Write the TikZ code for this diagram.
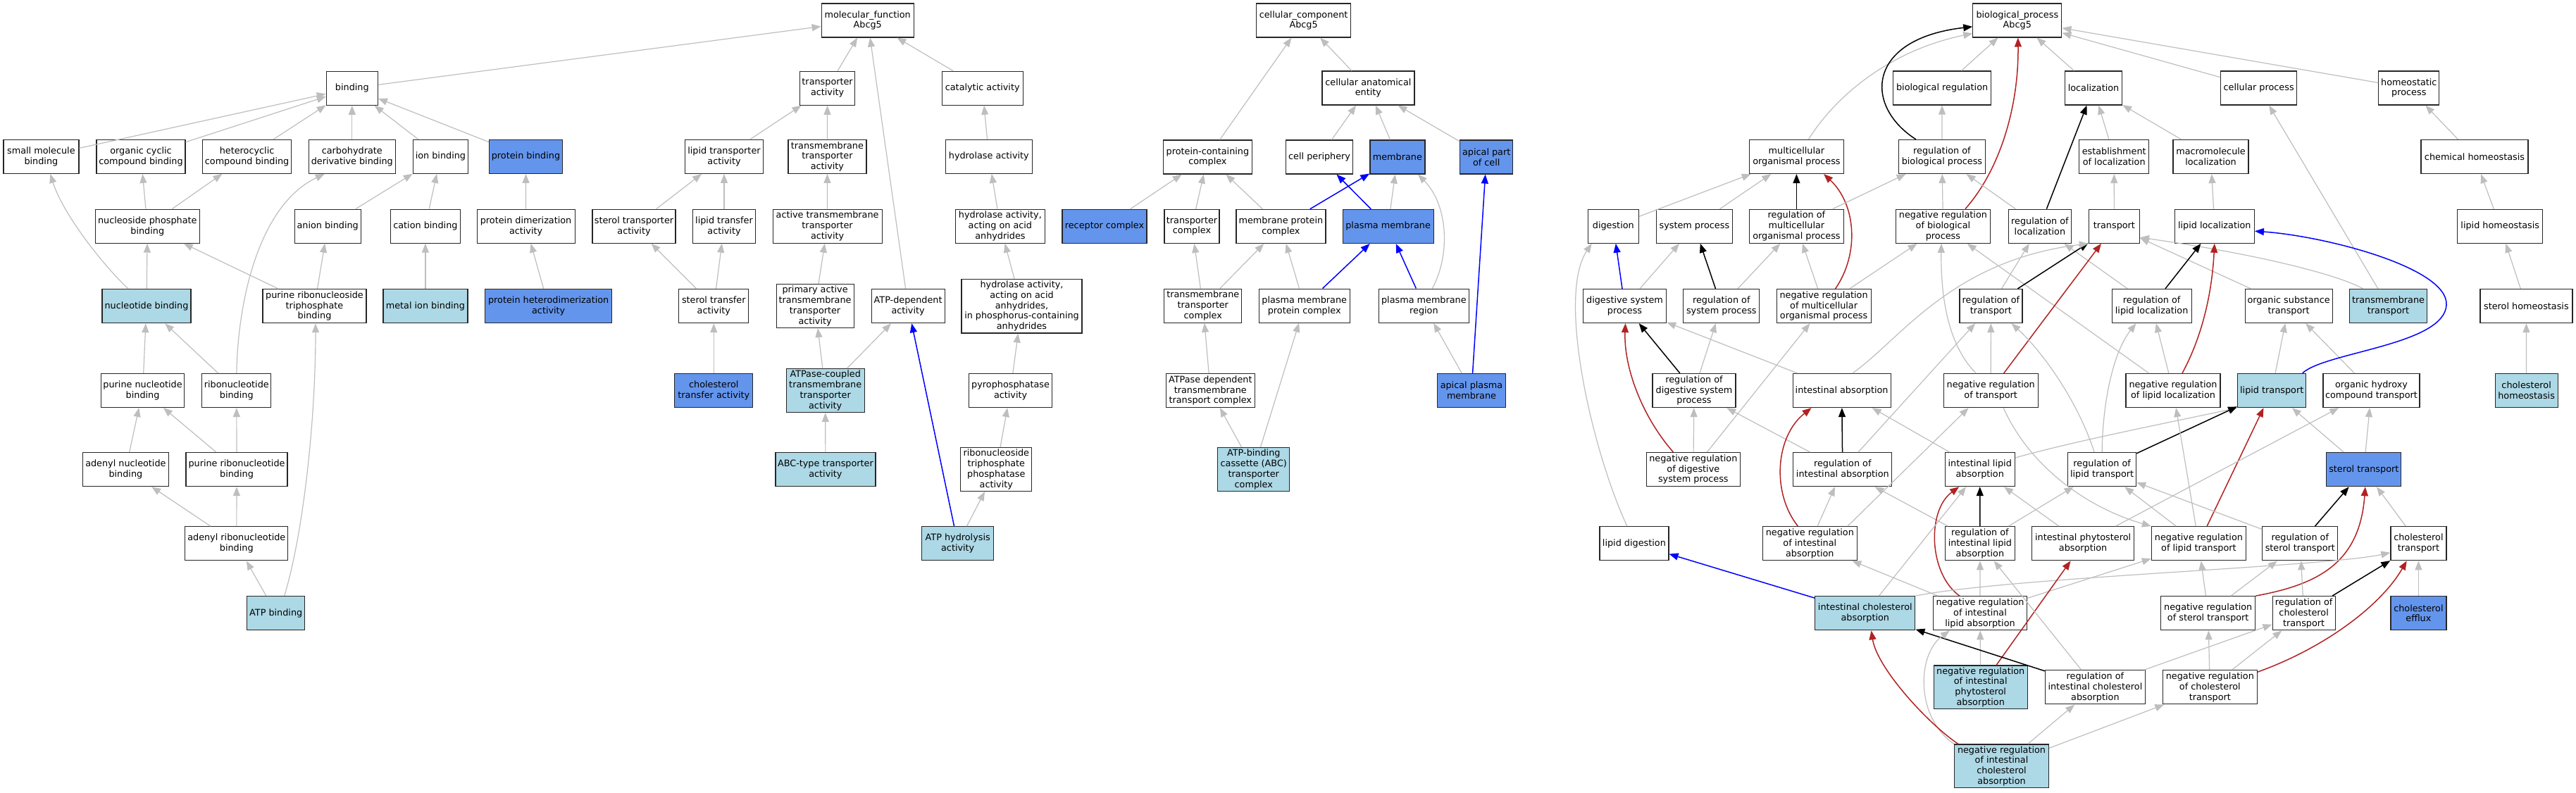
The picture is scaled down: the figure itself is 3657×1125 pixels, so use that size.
\documentclass[tikz,border=0pt]{standalone}
\usepackage{fontspec}
\setmainfont{DejaVu Sans}
\usetikzlibrary{arrows.meta}
\definecolor{edgegray}{HTML}{BEBEBE}
\definecolor{hitblue}{HTML}{ADD8E6}
\definecolor{annoblue}{HTML}{6495ED}
\definecolor{negred}{HTML}{B22222}
\begin{document}
\begin{tikzpicture}[x=1pt, y=-1pt,
	term/.style={rectangle, draw=black!85, line width=1.2pt, fill=white, align=center, inner xsep=2pt, inner ysep=2.5pt, minimum height=48pt, font=\fontsize{12.8}{14.8}\selectfont},
	termlb/.style={term, fill=hitblue},
	termcb/.style={term, fill=annoblue},
	isa/.style={draw=edgegray, line width=1.2pt, -{Triangle[length=13pt, width=10pt]}},
	partof/.style={isa, draw=blue, line width=1.5pt},
	regby/.style={isa, draw=black, line width=1.5pt},
	negreg/.style={isa, draw=negred, line width=1.5pt}]
		\useasboundingbox (0,0) rectangle (3657,1125);

		% molecular function terms
		\node[term, minimum width=131pt](mf) at (1231.7,28.9){molecular\_function\\Abcg5};
		\node[term, minimum width=73pt](binding) at (499.8,125.2){binding};
		\node[term, minimum width=78pt](transporter) at (1174.6,125.2){transporter\\activity};
		\node[term, minimum width=115pt](catalytic) at (1394.7,125.2){catalytic activity};
		\node[term, minimum width=107pt](smb) at (58.4,222.3){small molecule\\binding};
		\node[term, minimum width=126pt](ocb) at (200,222.3){organic cyclic\\compound binding};
		\node[term, minimum width=126pt](hcb) at (350.6,222.3){heterocyclic\\compound binding};
		\node[term, minimum width=123pt](cdb) at (499.8,222.3){carbohydrate\\derivative binding};
		\node[term, minimum width=78pt](ionb) at (625.4,222.3){ion binding};
		\node[termcb, minimum width=104pt](protb) at (746.5,222.3){protein binding};
		\node[term, minimum width=111pt](lta) at (1028,222.3){lipid transporter\\activity};
		\node[term, minimum width=111pt](tmta) at (1174.4,222.3){transmembrane\\transporter\\activity};
		\node[term, minimum width=123pt](hydro) at (1403.8,222.3){hydrolase activity};
		\node[term, minimum width=148pt](npb) at (209.3,321.1){nucleoside phosphate\\binding};
		\node[term, minimum width=94pt](anion) at (465.2,321.1){anion binding};
		\node[term, minimum width=99pt](cation) at (603.9,321.1){cation binding};
		\node[term, minimum width=139pt](pdim) at (746.6,321.1){protein dimerization\\activity};
		\node[term, minimum width=118pt](sta) at (900,321.1){sterol transporter\\activity};
		\node[term, minimum width=89pt](ltfa) at (1028,321.1){lipid transfer\\activity};
		\node[term, minimum width=155pt](atta) at (1174.6,321.1){active transmembrane\\transporter\\activity};
		\node[term, minimum width=127pt](hyaa) at (1419.9,321.1){hydrolase activity,\\acting on acid\\anhydrides};
		\node[termlb, minimum width=126pt](nucb) at (208,434.6){nucleotide binding};
		\node[term, minimum width=147pt](prtb) at (446.5,434.6){purine ribonucleoside\\triphosphate\\binding};
		\node[termlb, minimum width=120pt](metal) at (603.9,434.6){metal ion binding};
		\node[termcb, minimum width=180pt](phet) at (778.7,434.6){protein heterodimerization\\activity};
		\node[term, minimum width=99pt](stfa) at (1013.3,434.6){sterol transfer\\activity};
		\node[term, minimum width=110pt](pata) at (1157.1,434.6){primary active\\transmembrane\\transporter\\activity};
		\node[term, minimum width=104pt](atpdep) at (1289.1,434.6){ATP-dependent\\activity};
		\node[term, minimum width=171pt](hyph) at (1450.5,434.6){hydrolase activity,\\acting on acid\\anhydrides,\\in phosphorus-containing\\anhydrides};
		\node[term, minimum width=118pt](pnb) at (202.6,554.4){purine nucleotide\\binding};
		\node[term, minimum width=98pt](rnb) at (335.8,554.4){ribonucleotide\\binding};
		\node[termcb, minimum width=111pt](ctfa) at (1013.3,554.5){cholesterol\\transfer activity};
		\node[termlb, minimum width=111pt](atpc) at (1171.7,554.6){ATPase-coupled\\transmembrane\\transporter\\activity};
		\node[term, minimum width=118pt](pyro) at (1434.6,554.5){pyrophosphatase\\activity};
		\node[term, minimum width=122pt](anb) at (178.4,666.5){adenyl nucleotide\\binding};
		\node[term, minimum width=144pt](prnb) at (336,666.5){purine ribonucleotide\\binding};
		\node[termlb, minimum width=142pt](abc) at (1171.9,666.5){ABC-type transporter\\activity};
		\node[term, minimum width=101pt](rtpa) at (1414.3,666.5){ribonucleoside\\triphosphate\\phosphatase\\activity};
		\node[term, minimum width=146pt](arnb) at (335.8,771.8){adenyl ribonucleotide\\binding};
		\node[termlb, minimum width=102pt](atph) at (1359.7,771.8){ATP hydrolysis\\activity};
		\node[termlb, minimum width=82pt](atpb) at (391.7,870.5){ATP binding};

		% cellular component terms
		\node[term, minimum width=134pt](cc) at (1850.6,29){cellular\_component\\Abcg5};
		\node[term, minimum width=131pt](cae) at (1942.4,125){cellular anatomical\\entity};
		\node[term, minimum width=126pt](pcc) at (1714.4,223){protein-containing\\complex};
		\node[term, minimum width=95pt](cperi) at (1873.1,223){cell periphery};
		\node[termcb, minimum width=78pt](memb) at (1983.9,223){membrane};
		\node[termcb, minimum width=75pt](apc) at (2110.2,223){apical part\\of cell};
		\node[termcb, minimum width=120pt](recc) at (1568,321.4){receptor complex};
		\node[term, minimum width=78pt](trc) at (1692,321.4){transporter\\complex};
		\node[term, minimum width=127pt](mpc) at (1818.4,321.4){membrane protein\\complex};
		\node[termcb, minimum width=129pt](pm) at (1970.6,321.4){plasma membrane};
		\node[term, minimum width=110pt](tmtc) at (1707.8,434.1){transmembrane\\transporter\\complex};
		\node[term, minimum width=129pt](pmpc) at (1851.7,434.1){plasma membrane\\protein complex};
		\node[term, minimum width=128pt](pmr) at (2021.4,434.1){plasma membrane\\region};
		\node[term, minimum width=126pt](atpdtc) at (1718.3,554.5){ATPase dependent\\transmembrane\\transport complex};
		\node[termcb, minimum width=97pt](apm) at (2089,554.5){apical plasma\\membrane};
		\node[termlb, minimum width=102pt](abctc) at (1779.8,666.3){ATP-binding\\cassette (ABC)\\transporter\\complex};

		% biological process terms
		\node[term, minimum width=126pt](bp) at (2863.8,28.9){biological\_process\\Abcg5};
		\node[term, minimum width=139pt](breg) at (2757.1,125){biological regulation};
		\node[term, minimum width=81pt](loc) at (2972,125){localization};
		\node[term, minimum width=108pt](cellp) at (3206.6,125){cellular process};
		\node[term, minimum width=86pt](homeo) at (3419.8,125){homeostatic\\process};
		\node[term, minimum width=134pt](mop) at (2550.4,222.5){multicellular\\organismal process};
		\node[term, minimum width=123pt](rbp) at (2756.9,222.5){regulation of\\biological process};
		\node[term, minimum width=99pt](estloc) at (3001.2,222.5){establishment\\of localization};
		\node[term, minimum width=107pt](mmloc) at (3138.5,222.5){macromolecule\\localization};
		\node[term, minimum width=152pt](chemh) at (3513,222.5){chemical homeostasis};
		\node[term, minimum width=72pt](dig) at (2290.3,321.2){digestion};
		\node[term, minimum width=108pt](sysp) at (2405.4,321.2){system process};
		\node[term, minimum width=134pt](rmop) at (2550.4,321.2){regulation of\\multicellular\\organismal process};
		\node[term, minimum width=134pt](nrbp) at (2758.4,321.2){negative regulation\\of biological\\process};
		\node[term, minimum width=89pt](rloc) at (2895.9,321.2){regulation of\\localization};
		\node[term, minimum width=72pt](trans) at (3001.4,321.2){transport};
		\node[term, minimum width=113pt](lloc) at (3143.8,321.2){lipid localization};
		\node[term, minimum width=121pt](lhom) at (3549.2,321.2){lipid homeostasis};
		\node[term, minimum width=118pt](dsp) at (2306.5,434.5){digestive system\\process};
		\node[term, minimum width=108pt](rsp) at (2443.8,434.5){regulation of\\system process};
		\node[term, minimum width=134pt](nrmop) at (2589.1,434.5){negative regulation\\of multicellular\\organismal process};
		\node[term, minimum width=89pt](rtr) at (2826.4,434.5){regulation of\\transport};
		\node[term, minimum width=113pt](rll) at (3054.6,434.5){regulation of\\lipid localization};
		\node[term, minimum width=124pt](ost) at (3249.1,434.5){organic substance\\transport};
		\node[termlb, minimum width=110pt](tmt) at (3390.5,434.5){transmembrane\\transport};
		\node[term, minimum width=131pt](sth) at (3586.4,434.5){sterol homeostasis};
		\node[term, minimum width=118pt](rdsp) at (2405,554.5){regulation of\\digestive system\\process};
		\node[term, minimum width=139pt](ia) at (2614.6,554.5){intestinal absorption};
		\node[term, minimum width=134pt](nrtr) at (2826.2,554.5){negative regulation\\of transport};
		\node[term, minimum width=134pt](nrll) at (3085,554.5){negative regulation\\of lipid localization};
		\node[termlb, minimum width=97pt](ltr) at (3225.2,554.5){lipid transport};
		\node[term, minimum width=137pt](ohct) at (3366.5,554.5){organic hydroxy\\compound transport};
		\node[termlb, minimum width=89pt](chom) at (3586.6,554.5){cholesterol\\homeostasis};
		\node[term, minimum width=133pt](nrdsp) at (2403.8,666.6){negative regulation\\of digestive\\system process};
		\node[term, minimum width=140pt](ria) at (2615.8,666.6){regulation of\\intestinal absorption};
		\node[term, minimum width=99pt](ila) at (2810.7,666.6){intestinal lipid\\absorption};
		\node[term, minimum width=97pt](rlt) at (2984.1,666.6){regulation of\\lipid transport};
		\node[termcb, minimum width=106pt](str) at (3355.8,666.6){sterol transport};
		\node[term, minimum width=98pt](ldig) at (2319.9,771.7){lipid digestion};
		\node[term, minimum width=134pt](nria) at (2569.3,771.7){negative regulation\\of intestinal\\absorption};
		\node[term, minimum width=99pt](rila) at (2810.9,771.7){regulation of\\intestinal lipid\\absorption};
		\node[term, minimum width=145pt](ipa) at (2957.1,771.7){intestinal phytosterol\\absorption};
		\node[term, minimum width=134pt](nrlt) at (3121.4,771.7){negative regulation\\of lipid transport};
		\node[term, minimum width=107pt](rst) at (3265.3,771.7){regulation of\\sterol transport};
		\node[term, minimum width=79pt](ctr) at (3433.4,771.7){cholesterol\\transport};
		\node[termlb, minimum width=142pt](ica) at (2647.8,870.7){intestinal cholesterol\\absorption};
		\node[term, minimum width=133pt](nrila) at (2811,870.7){negative regulation\\of intestinal\\lipid absorption};
		\node[term, minimum width=134pt](nrst) at (3134.7,870.7){negative regulation\\of sterol transport};
		\node[term, minimum width=89pt](rct) at (3270.6,870.7){regulation of\\cholesterol\\transport};
		\node[termcb, minimum width=79pt](ceff) at (3433.4,870.7){cholesterol\\efflux};
		\node[termlb, minimum width=133pt](nripa) at (2811.7,975.8){negative regulation\\of intestinal\\phytosterol\\absorption};
		\node[term, minimum width=142pt](rica) at (2974.4,975.8){regulation of\\intestinal cholesterol\\absorption};
		\node[term, minimum width=134pt](nrct) at (3137.3,975.8){negative regulation\\of cholesterol\\transport};
		\node[termlb, minimum width=134pt](nrica) at (2841.5,1087.8){negative regulation\\of intestinal\\cholesterol\\absorption};
		\coordinate (loopturn) at (3473,433);

		% draw molecular function edges
		\draw[isa] (binding) -- (mf);
		\draw[isa] (transporter) -- (mf);
		\draw[isa] (catalytic) -- (mf);
		\draw[isa] (atpdep) -- (mf);
		\draw[isa] (smb) -- (binding);
		\draw[isa] (ocb) -- (binding);
		\draw[isa] (hcb) -- (binding);
		\draw[isa] (cdb) -- (binding);
		\draw[isa] (ionb) -- (binding);
		\draw[isa] (protb) -- (binding);
		\draw[isa] ([xshift=-26pt]nucb.north) .. controls (140,370) and (88,300) .. ([xshift=13pt]smb.south);
		\draw[isa] (npb) -- (ocb);
		\draw[isa] (npb) -- (hcb);
		\draw[isa] (rnb.north) .. controls (338,420) and (370,290) .. ([xshift=-39pt]cdb.south);
		\draw[isa] (anion) -- (ionb);
		\draw[isa] (cation) -- (ionb);
		\draw[isa] (pdim) -- (protb);
		\draw[isa] (nucb) -- (npb);
		\draw[isa] (prtb) -- (npb);
		\draw[isa] (prtb) -- (anion);
		\draw[isa] (metal) -- (cation);
		\draw[isa] (phet) -- (pdim);
		\draw[isa] (pnb) -- (nucb);
		\draw[isa] (rnb) -- (nucb);
		\draw[isa] (anb) -- (pnb);
		\draw[isa] (prnb) -- (pnb);
		\draw[isa] (prnb) -- (rnb);
		\draw[isa] (arnb) -- (anb);
		\draw[isa] (arnb) -- (prnb);
		\draw[isa] (atpb) -- (arnb);
		\draw[isa] ([xshift=12pt]atpb.north) .. controls (430,760) and (448,600) .. ([xshift=1.5pt]prtb.south);
		\draw[isa] (lta) -- (transporter);
		\draw[isa] (tmta) -- (transporter);
		\draw[isa] (hydro) -- (catalytic);
		\draw[isa] (sta) -- (lta);
		\draw[isa] (ltfa) -- (lta);
		\draw[isa] (atta) -- (tmta);
		\draw[isa] (hyaa) -- (hydro);
		\draw[isa] (stfa) -- (sta);
		\draw[isa] (stfa) -- (ltfa);
		\draw[isa] (pata) -- (atta);
		\draw[isa] (hyph) -- (hyaa);
		\draw[isa] (ctfa) -- (stfa);
		\draw[isa] (atpc) -- (pata);
		\draw[isa] (atpc) -- (atpdep);
		\draw[isa] (pyro) -- (hyph);
		\draw[isa] (abc) -- (atpc);
		\draw[isa] (rtpa) -- (pyro);
		\draw[isa] (atph) -- (rtpa);
		\draw[partof] (atph) -- (atpdep);

		% draw cellular component edges
		\draw[isa] (pcc) -- (cc);
		\draw[isa] (cae) -- (cc);
		\draw[isa] (cperi) -- (cae);
		\draw[isa] (memb) -- (cae);
		\draw[isa] (apc) -- (cae);
		\draw[isa] (recc) -- (pcc);
		\draw[isa] (trc) -- (pcc);
		\draw[isa] (mpc) -- (pcc);
		\draw[partof] (mpc) -- (memb);
		\draw[partof] (pm) -- (cperi);
		\draw[isa] (pm) -- (memb);
		\draw[isa] (tmtc) -- (trc);
		\draw[isa] (tmtc) -- (mpc);
		\draw[isa] (pmpc) -- (mpc);
		\draw[partof] (pmpc) -- (pm);
		\draw[partof] (pmr) -- (pm);
		\draw[isa] ([xshift=12pt]pmr.north) .. controls (2060,360) and (2055,290) .. ([xshift=29pt]memb.south);
		\draw[isa] (atpdtc) -- (tmtc);
		\draw[isa] (abctc) -- (atpdtc);
		\draw[isa] (abctc) -- (pmpc);
		\draw[isa] (apm) -- (pmr);
		\draw[partof] (apm) -- (apc);

		% draw biological process edges
		\draw[isa] (breg) -- (bp);
		\draw[isa] (loc) -- (bp);
		\draw[isa] (cellp) -- (bp);
		\draw[isa] (homeo) -- (bp);
		\draw[isa] ([xshift=17pt]mop.north) .. controls (2610,130) and (2690,70) .. ([yshift=6pt]bp.south west);
		\draw[regby] ([xshift=-37pt]rbp.north) .. controls (2645,150) and (2650,55) .. ([yshift=-9pt]bp.west);
		\draw[negreg] ([xshift=31.6pt]nrbp.north) .. controls (2840,240) and (2866,150) .. ([xshift=1pt]bp.south);
		\draw[isa] (rbp) -- (breg);
		\draw[isa] (dig) -- (mop);
		\draw[isa] (sysp) -- (mop);
		\draw[regby] (rmop) -- (mop);
		\draw[negreg] ([xshift=16.5pt]nrmop.north) .. controls (2640,360) and (2635,290) .. ([xshift=38.6pt]mop.south);
		\draw[isa] (rmop) -- (rbp);
		\draw[isa] (nrbp) -- (rbp);
		\draw[isa] (rloc) -- (rbp);
		\draw[regby] (rloc) -- (loc);
		\draw[isa] (estloc) -- (loc);
		\draw[isa] (mmloc) -- (loc);
		\draw[isa] (trans) -- (estloc);
		\draw[isa] (lloc) -- (mmloc);
		\draw[isa] (chemh) -- (homeo);
		\draw[isa] (lhom) -- (chemh);
		\draw[isa] (sth) -- (lhom);
		\draw[isa] (chom) -- (sth);
		\draw[isa] (tmt) -- (cellp);
		\draw[isa] ([xshift=19.5pt]tmt.north west) .. controls (3320,390) and (3200,360) .. ([yshift=-16pt]trans.east);
		\draw[isa] (ost) -- (trans);
		\draw[isa] (ltr) -- (ost);
		\draw[isa] (ohct) -- (ost);
		\draw[partof] ([xshift=-5.7pt]ltr.north east) .. controls (3300,500) and (3470,490) .. (loopturn) .. controls (3476,380) and (3300,335) .. ([yshift=-7pt]lloc.east);
		\draw[isa] (str) -- (ltr);
		\draw[isa] (str) -- (ohct);
		\draw[isa] (ctr) -- (str);
		\draw[isa] (ceff) -- (ctr);

		% digestion and absorption edges
		\draw[partof] (dsp) -- (dig);
		\draw[isa] (dsp) -- (sysp);
		\draw[regby] (rsp) -- (sysp);
		\draw[isa] (rsp) -- (rmop);
		\draw[isa] ([xshift=-10pt]ldig.north) .. controls (2260,640) and (2210,420) .. ([xshift=6pt]dig.south west);
		\draw[isa] (nrmop) -- (rmop);
		\draw[isa] (nrmop) -- (nrbp);
		\draw[isa] ([xshift=-21pt]nrtr.north) .. controls (2765,490) and (2755,420) .. ([xshift=-2.4pt]nrbp.south);
		\draw[isa] (nrll) -- (nrbp);
		\draw[isa] (rtr) -- (rloc);
		\draw[isa] (rll) -- (rloc);
		\draw[regby] (rtr) -- (trans);
		\draw[negreg] (nrtr) -- (trans);
		\draw[isa] ([xshift=15.4pt]ia.north) .. controls (2700,480) and (2770,370) .. (trans.south west);
		\draw[regby] (rll) -- (lloc);
		\draw[negreg] ([xshift=13pt]nrll.north) .. controls (3125,480) and (3140,420) .. (lloc.south);
		\draw[isa] (nrll) -- (rll);
		\draw[isa] (rlt.north) .. controls (2985,570) and (3000,500) .. ([xshift=35pt]rll.south west);
		\draw[isa] (ria) -- (rtr);
		\draw[isa] (nrtr) -- (rtr);
		\draw[isa] ([xshift=-11pt]rlt.north) .. controls (2950,570) and (2900,500) .. ([xshift=-16pt]rtr.south east);
		\draw[isa] ([xshift=-14pt]nria.north east) -- ([xshift=36pt]nrtr.south west);
		\draw[negreg] ([xshift=-28.4pt]nrdsp.north) .. controls (2330,590) and (2305,520) .. ([xshift=1pt]dsp.south);
		\draw[regby] (rdsp) -- (dsp);
		\draw[isa] (ia) -- (dsp);
		\draw[isa] (rdsp) -- (rsp);
		\draw[isa] (nrdsp) -- (nrmop);
		\draw[isa] (nrdsp) -- (rdsp);
		\draw[isa] (ria) -- (rdsp);
		\draw[regby] (ria) -- (ia);
		\draw[negreg] ([xshift=-17pt]nria.north) .. controls (2515,700) and (2520,620) .. ([xshift=-43pt]ia.south);
		\draw[isa] (ila) -- (ia);
		\draw[isa] (nria) -- (ria);
		\draw[isa] (rila) -- (ria);
		\draw[regby] (rila) -- (ila);
		\draw[negreg] ([xshift=38pt]nrila.north west) .. controls (2738,815) and (2735,725) .. ([xshift=20.6pt]ila.south west);
		\draw[isa] (ica) -- (ila);
		\draw[isa] (ipa) -- (ila);
		\draw[isa] ([yshift=-8pt]ila.north east) .. controls (2950,625) and (3080,600) .. (ltr.south west);
		\draw[regby] (rlt) -- (ltr);
		\draw[negreg] (nrlt) -- (ltr);
		\draw[isa] (rila) -- (rlt);
		\draw[isa] (nrlt) -- (rlt);
		\draw[isa] (rst) -- (rlt);
		\draw[isa] (nrlt) -- (nrll);
		\draw[isa] ([xshift=18pt]nrtr.south) .. controls (2880,660) and (2960,720) .. (nrlt.north west);
		\draw[isa] (ipa) -- (ohct);

		% sterol and cholesterol edges
		\draw[regby] (rst) -- (str);
		\draw[negreg] (nrst.north east) .. controls (3290,830) and (3350,800) .. ([xshift=2pt]str.south);
		\draw[isa] (ica.north east) .. controls (2850,820) and (3300,805) .. ([yshift=-13pt]ctr.west);
		\draw[regby] (rct) -- (ctr);
		\draw[negreg] ([yshift=-3pt]nrct.north east) .. controls (3300,920) and (3380,860) .. ([xshift=-16.7pt]ctr.south);
		\draw[isa] (nrila) -- (nria);
		\draw[isa] (nrila) -- (rila);
		\draw[isa] (nrila) -- (nrlt);
		\draw[partof] (ica) -- (ldig);
		\draw[isa] (nripa) -- (nrila);
		\draw[negreg] (nripa) -- (ipa);
		\draw[isa] (nrst) -- (nrlt);
		\draw[isa] (nrst) -- (rst);
		\draw[isa] (rct) -- (rst);
		\draw[isa] (rica) -- (rct);
		\draw[isa] (nrct) -- (rct);
		\draw[isa] (nrct) -- (nrst);
		\draw[regby] (rica) -- (ica);
		\draw[isa] (rica) -- (rila);
		\draw[isa] (nrica.north west) .. controls (2720,1020) and (2720,930) .. ([xshift=24pt]nrila.south west);
		\draw[negreg] ([xshift=6pt]nrica.north west) .. controls (2740,1030) and (2665,950) .. ([xshift=8.7pt]ica.south);
		\draw[isa] (nrica) -- (rica);
		\draw[isa] (nrica) -- (nrct);
	\end{tikzpicture}
\end{document}
